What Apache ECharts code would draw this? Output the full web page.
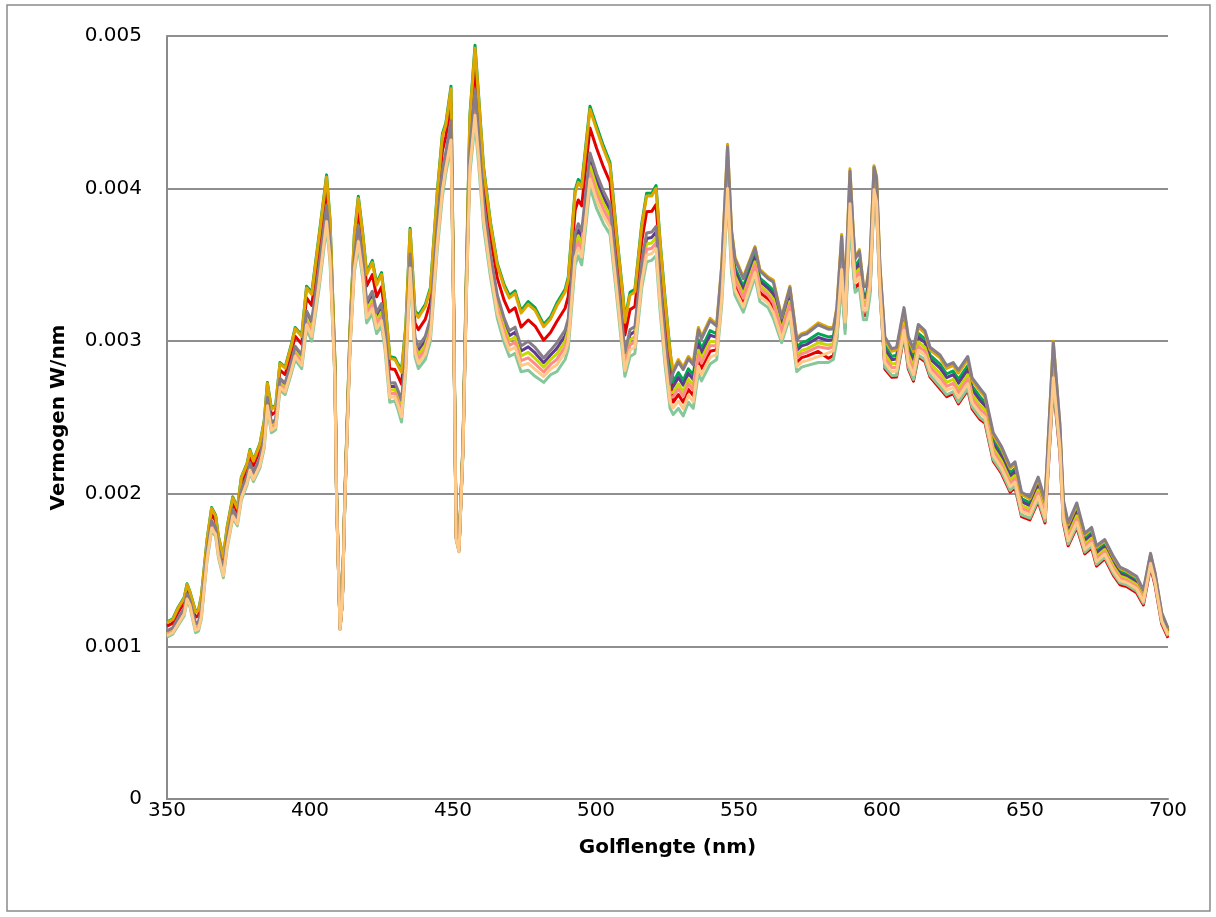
<!DOCTYPE html>
<html>
<head>
<meta charset="utf-8">
<script src="https://cdn.jsdelivr.net/npm/echarts@6/dist/echarts.min.js"></script>
<style>
html,body{margin:0;padding:0;background:#fff;}
#chart{width:1216px;height:917px;}
</style>
</head>
<body>
<div id="chart"></div>
<script>
// Spectral power, values in µW/nm (1e-6 W/nm); axis labels show W/nm.
const wavelengths = [350,352,354,356,357,358,360,361,362,364,365.6,367,368,369.7,371,373,374.6,376,378,379,380.2,382.5,384,385.1,386.5,388,389.5,391.3,393.5,394.8,397.1,398.8,400.6,403.2,405.8,407,408.7,409.3,410.5,411.3,412.2,414,415.5,416.9,418.5,419.8,421.8,423.3,425,426.2,427.9,429.7,430.8,432,433.5,435,436.7,437.9,440.3,442.1,444.5,446.3,447.5,449.3,450.1,451.1,452.1,453.5,454.7,455.9,457.7,459,460.7,463.1,465.5,467.9,469.7,471.7,473.8,476.3,478.7,481.7,484.1,486.3,489.2,490.3,492.7,493.8,495,497.9,500.2,502.6,504.9,507.2,509.5,510.1,511.9,513.6,516,517.7,519.5,521,522.4,524.1,525.9,527,528.8,530.5,532.3,534,535.8,536.9,539.9,542.2,544,546,547.4,548.6,551.5,555.6,557.3,560.2,562,564.9,567.8,570.2,571.9,573.7,577.7,581.2,583,584.2,585.9,587.1,588.8,590,590.6,592.1,593.5,594.6,595.8,597.2,598.1,599.3,601,603.4,605.1,607.7,609.2,611,612.7,615,616.8,620.3,622.6,624.9,626.7,630,631.5,634.3,636,638.9,641.8,644.8,646.5,648.8,651.7,654.6,657,659.9,662.2,663.4,665.1,668.1,670.9,673.3,675,677.9,680.9,683.2,685.5,689,691.4,693.9,695.5,697.8,700];

const sGreen = [1160,1180,1260,1320,1410,1360,1230,1240,1330,1700,1910,1860,1720,1590,1780,1980,1910,2110,2200,2290,2220,2330,2480,2730,2560,2580,2860,2830,2980,3090,3040,3360,3320,3700,4090,3800,2880,2000,1130,1300,2000,3090,3700,3950,3700,3450,3530,3380,3450,3270,2900,2890,2850,2810,3100,3740,3200,3170,3240,3350,3980,4360,4430,4670,3470,1740,1650,2340,3470,4480,4940,4600,4140,3780,3510,3370,3300,3330,3200,3260,3220,3110,3160,3250,3340,3420,3990,4060,4030,4540,4410,4280,4170,3710,3290,3140,3320,3340,3770,3970,3970,4020,3660,3290,2940,2732,2794,2744,2819,2779,3009,2952,3069,3048,3440,4198,3654,3482,3358,3566,3413,3366,3333,3114,3306,2961,2991,3001,3050,3028,3033,3161,3614,3247,4044,3640,3488,3533,3308,3308,3468,4091,4018,3439,2972,2900,2908,3170,2972,2892,3052,3015,2908,2850,2785,2805,2750,2840,2705,2635,2600,2350,2262,2135,2165,1968,1940,2068,1920,2912,2408,1920,1770,1898,1705,1745,1625,1668,1558,1490,1473,1433,1345,1588,1460,1202,1105];

const sGold = [1156,1176,1255,1315,1406,1356,1224,1234,1324,1694,1904,1854,1714,1584,1774,1974,1905,2104,2194,2284,2214,2324,2473,2723,2554,2574,2853,2823,2972,3082,3031,3349,3307,3686,4076,3789,2875,1998,1129,1299,1998,3084,3690,3937,3688,3437,3516,3367,3436,3257,2888,2879,2838,2796,3088,3728,3188,3156,3226,3336,3965,4344,4417,4654,3465,1738,1649,2338,3463,4465,4920,4582,4124,3766,3496,3355,3284,3314,3184,3242,3202,3095,3145,3232,3322,3401,3970,4040,4009,4519,4388,4260,4151,3694,3274,3125,3303,3323,3753,3952,3952,4002,3642,3272,2925,2810,2880,2830,2900,2860,3090,3030,3150,3110,3510,4290,3730,3550,3420,3620,3470,3420,3400,3160,3360,3020,3050,3060,3120,3090,3090,3220,3700,3320,4130,3710,3550,3600,3370,3370,3530,4150,4080,3490,3012,2934,2943,3204,3012,2932,3092,3052,2943,2891,2822,2842,2791,2881,2742,2672,2634,2384,2295,2166,2196,1996,1967,2096,1947,3000,2443,1947,1797,1926,1729,1769,1649,1690,1580,1510,1491,1451,1362,1603,1474,1214,1115];

const sRed = [1133,1153,1228,1288,1380,1333,1192,1202,1290,1662,1870,1822,1682,1552,1742,1942,1878,2070,2162,2250,2182,2287,2431,2684,2517,2537,2811,2781,2929,3033,2981,3284,3234,3606,3998,3724,2845,1987,1125,1295,1987,3052,3633,3861,3619,3361,3436,3291,3356,3184,2819,2814,2769,2718,3019,3662,3119,3076,3143,3256,3877,4249,4341,4565,3438,1729,1642,2324,3424,4377,4802,4479,4035,3683,3413,3267,3192,3219,3092,3139,3099,3007,3057,3129,3216,3293,3858,3925,3887,4397,4264,4142,4043,3599,3179,3040,3207,3227,3657,3849,3851,3896,3536,3171,2837,2601,2650,2600,2684,2644,2874,2821,2934,2944,3323,4045,3528,3370,3254,3476,3319,3276,3220,3038,3216,2862,2892,2902,2933,2888,2905,3026,3418,3082,3848,3481,3348,3380,3168,3168,3328,3956,3878,3323,2818,2764,2765,3034,2818,2738,2898,2867,2765,2689,2637,2657,2589,2679,2557,2487,2464,2214,2133,2011,2041,1850,1829,1950,1809,2708,2265,1809,1659,1780,1606,1646,1526,1575,1465,1404,1392,1352,1271,1520,1398,1147,1056];

const sGray = [1102,1122,1190,1250,1346,1302,1149,1159,1243,1619,1823,1779,1639,1509,1699,1899,1840,2023,2119,2203,2139,2237,2376,2631,2467,2487,2756,2726,2870,2968,2912,3198,3134,3497,3893,3638,2805,1971,1118,1288,1971,3009,3555,3759,3526,3259,3327,3189,3247,3084,2726,2728,2676,2613,2926,3572,3026,2967,3031,3147,3760,4122,4239,4444,3400,1717,1633,2305,3371,4260,4644,4339,3914,3571,3301,3150,3068,3092,2968,2999,2959,2890,2940,2989,3073,3147,3706,3770,3723,4233,4097,3984,3897,3472,3052,2925,3076,3096,3526,3709,3715,3753,3393,3035,2720,2795,2864,2814,2885,2845,3075,3015,3135,3099,3497,4273,3716,3538,3409,3610,3460,3410,3388,3152,3350,3009,3039,3049,3107,3079,3080,3209,3684,3307,4114,3697,3539,3588,3359,3359,3519,4139,4069,3481,3030,2950,2960,3220,3030,2950,3110,3070,2960,2910,2840,2860,2810,2900,2760,2690,2650,2400,2310,2180,2210,2010,1980,2110,1960,2990,2460,1960,1810,1940,1740,1780,1660,1700,1590,1520,1500,1460,1370,1610,1480,1220,1120];

const sPurple = [1094,1114,1181,1241,1337,1294,1138,1148,1231,1608,1811,1768,1628,1498,1688,1888,1831,2011,2108,2191,2128,2224,2361,2618,2454,2474,2741,2711,2855,2951,2895,3175,3109,3469,3866,3615,2794,1967,1117,1287,1967,2998,3535,3732,3502,3232,3299,3162,3219,3059,2702,2705,2652,2586,2902,3549,3002,2939,3002,3119,3729,4089,4212,4413,3391,1714,1630,2300,3358,4229,4603,4303,3883,3542,3272,3119,3036,3059,2936,2963,2923,2859,2909,2953,3036,3110,3667,3730,3680,4190,4054,3943,3860,3439,3019,2896,3043,3063,3493,3673,3680,3716,3356,3000,2689,2703,2762,2712,2789,2749,2979,2923,3039,3025,3414,4164,3626,3457,3335,3546,3392,3346,3308,3097,3286,2939,2969,2979,3024,3005,3012,3139,3582,3220,4012,3614,3465,3508,3285,3285,3445,4069,3995,3420,2947,2878,2884,3148,2947,2867,3027,2991,2884,2824,2761,2781,2724,2814,2681,2611,2578,2328,2242,2115,2145,1949,1922,2049,1902,2878,2384,1902,1752,1879,1690,1730,1610,1653,1543,1477,1460,1420,1334,1578,1451,1195,1098];

const sYellowGreen = [1086,1106,1171,1231,1329,1286,1126,1136,1219,1596,1799,1756,1616,1486,1676,1876,1821,1999,2096,2179,2116,2212,2347,2604,2442,2462,2727,2697,2839,2935,2877,3153,3083,3441,3838,3593,2784,1963,1115,1285,1963,2986,3515,3706,3478,3206,3271,3136,3191,3033,2678,2683,2628,2558,2878,3525,2978,2911,2974,3091,3699,4057,4186,4381,3381,1710,1628,2296,3344,4199,4563,4267,3851,3514,3244,3089,3004,3027,2904,2927,2887,2829,2879,2917,3000,3072,3627,3690,3638,4148,4010,3903,3822,3407,2987,2866,3009,3029,3459,3637,3644,3680,3320,2964,2659,2665,2720,2670,2750,2710,2940,2885,3000,2995,3380,4120,3590,3425,3305,3520,3365,3320,3275,3075,3260,2910,2940,2950,2990,2975,2985,3110,3540,3185,3970,3580,3435,3475,3255,3255,3415,4040,3965,3395,2915,2850,2855,3120,2915,2835,2995,2960,2855,2790,2730,2750,2690,2780,2650,2580,2550,2300,2215,2090,2120,1925,1900,2025,1880,2835,2355,1880,1730,1855,1670,1710,1590,1635,1525,1460,1445,1405,1320,1565,1440,1185,1090];

const sSalmon = [1078,1098,1162,1222,1320,1278,1115,1125,1207,1585,1787,1745,1605,1475,1665,1865,1812,1987,2085,2167,2105,2199,2332,2591,2429,2449,2712,2682,2824,2918,2860,3130,3058,3413,3811,3570,2773,1959,1114,1284,1959,2975,3495,3679,3454,3179,3243,3109,3163,3008,2654,2660,2604,2531,2854,3502,2954,2883,2945,3063,3668,4024,4159,4350,3372,1707,1625,2291,3331,4168,4522,4231,3820,3485,3215,3058,2972,2994,2872,2891,2851,2798,2848,2881,2963,3035,3588,3650,3595,4105,3967,3862,3785,3374,2954,2837,2976,2996,3426,3601,3609,3643,3283,2929,2628,2636,2688,2638,2720,2680,2910,2856,2970,2972,3354,4086,3562,3400,3282,3500,3344,3300,3250,3058,3240,2888,2918,2928,2964,2952,2964,3088,3508,3158,3938,3554,3412,3450,3232,3232,3392,4018,3942,3376,2887,2826,2830,3096,2887,2807,2967,2934,2830,2761,2704,2724,2661,2751,2624,2554,2526,2276,2192,2068,2098,1905,1881,2005,1861,2798,2330,1861,1711,1835,1653,1693,1573,1619,1509,1446,1432,1392,1308,1554,1430,1177,1083];

const sLightOrange = [1070,1090,1152,1212,1311,1270,1104,1114,1195,1574,1775,1734,1594,1464,1654,1854,1802,1975,2074,2155,2094,2186,2318,2577,2416,2436,2698,2668,2809,2901,2842,3108,3032,3385,3784,3548,2763,1955,1112,1282,1955,2964,3475,3653,3430,3153,3215,3083,3135,2982,2630,2638,2580,2504,2830,3479,2930,2855,2916,3035,3638,3991,4133,4319,3362,1704,1623,2286,3317,4138,4481,4195,3789,3456,3186,3028,2940,2961,2840,2855,2815,2768,2818,2845,2926,2997,3549,3610,3553,4063,3924,3821,3747,3341,2921,2807,2942,2962,3392,3565,3574,3606,3246,2894,2598,2563,2608,2558,2645,2605,2835,2783,2895,2914,3289,4001,3492,3337,3224,3450,3291,3250,3188,3015,3190,2833,2863,2873,2899,2924,2939,3062,3470,3126,3900,3523,3384,3420,3204,3204,3364,3992,3914,3353,2860,2802,2805,3072,2860,2780,2940,2907,2805,2732,2677,2697,2632,2722,2597,2527,2502,2252,2169,2047,2077,1884,1862,1984,1842,2761,2305,1842,1692,1814,1636,1676,1556,1604,1494,1431,1419,1379,1296,1543,1421,1168,1076];

const sLightGreen = [1060,1080,1140,1200,1300,1260,1090,1100,1180,1560,1760,1720,1580,1450,1640,1840,1790,1960,2060,2140,2080,2170,2300,2560,2400,2420,2680,2650,2790,2880,2820,3080,3000,3350,3750,3520,2750,1950,1110,1280,1950,2950,3450,3620,3400,3120,3180,3050,3100,2950,2600,2610,2550,2470,2800,3450,2900,2820,2880,3000,3600,3950,4100,4280,3350,1700,1620,2280,3300,4100,4430,4150,3750,3420,3150,2990,2900,2920,2800,2810,2770,2730,2780,2800,2880,2950,3500,3560,3500,4010,3870,3770,3700,3300,2880,2770,2900,2920,3350,3520,3530,3560,3200,2850,2560,2520,2560,2510,2600,2560,2790,2740,2850,2880,3250,3950,3450,3300,3190,3420,3260,3220,3150,2990,3160,2800,2830,2840,2860,2860,2880,3000,3380,3050,3810,3450,3320,3350,3140,3140,3300,3930,3850,3300,2830,2776,2777,3046,2830,2750,2910,2879,2777,2701,2649,2669,2601,2691,2569,2499,2476,2226,2145,2023,2053,1862,1841,1962,1821,2720,2277,1821,1671,1792,1618,1658,1538,1587,1477,1416,1404,1364,1283,1532,1410,1159,1068];

const yTickLabels = ['0','0.001','0.002','0.003','0.004','0.005'];
const xAxisTitle = 'Golflengte (nm)';
const yAxisTitle = 'Vermogen W/nm';

// drawing order (later drawn on top)
const seriesDefs = [
  {name:'S1', data:sRed, color:'#E50000'},
  {name:'S2', data:sLightGreen, color:'#86C89C'},
  {name:'S3', data:sGreen, color:'#00A651'},
  {name:'S4', data:sPurple, color:'#5F3C90'},
  {name:'S5', data:sYellowGreen, color:'#C4DA00'},
  {name:'S6', data:sSalmon, color:'#FF8C86'},
  {name:'S7', data:sGold, color:'#DFA600'},
  {name:'S8', data:sGray, color:'#877D89'},
  {name:'S9', data:sLightOrange, color:'#FFC987'}
];

const chart = echarts.init(document.getElementById('chart'), null, {renderer:'canvas'});
const FONT = 'DejaVu Sans';
chart.setOption({
  animation:false,
  backgroundColor:'#ffffff',
  grid:{left:167, right:48, top:36, bottom:118, containLabel:false},
  graphic:[{type:'rect', shape:{x:7, y:5, width:1203, height:906}, style:{fill:null, stroke:'#8a8a8a', lineWidth:1.5}, silent:true, z:-1}],
  xAxis:{
    type:'value', min:350, max:700, interval:50,
    name:xAxisTitle, nameLocation:'middle', nameGap:39,
    nameTextStyle:{fontFamily:FONT, fontSize:20, fontWeight:'bold', color:'#000'},
    axisLine:{show:true, onZero:false, lineStyle:{color:'#8a8a8a', width:2}},
    axisTick:{show:false},
    axisLabel:{fontFamily:FONT, fontSize:20, color:'#000', margin:2},
    splitLine:{show:false}
  },
  yAxis:{
    type:'value', min:0, max:5000, interval:1000,
    name:yAxisTitle, nameLocation:'middle', nameGap:98, nameRotate:90,
    nameTextStyle:{fontFamily:FONT, fontSize:20, fontWeight:'bold', color:'#000'},
    axisLine:{show:true, lineStyle:{color:'#8a8a8a', width:2}},
    axisTick:{show:false},
    axisLabel:{fontFamily:FONT, fontSize:20, color:'#000', margin:25,
      formatter:function(v){ return yTickLabels[Math.round(v/1000)]; }},
    splitLine:{show:true, lineStyle:{color:'#8f8f8f', width:2}}
  },
  series:seriesDefs.map(function(s){
    return {
      name:s.name, type:'line', showSymbol:false, symbol:'none', smooth:false,
      data:wavelengths.map(function(w,i){ return [w, s.data[i]]; }),
      lineStyle:{color:s.color, width:3, join:'round'},
      itemStyle:{color:s.color},
      emphasis:{disabled:true}
    };
  })
});
</script>
</body>
</html>
